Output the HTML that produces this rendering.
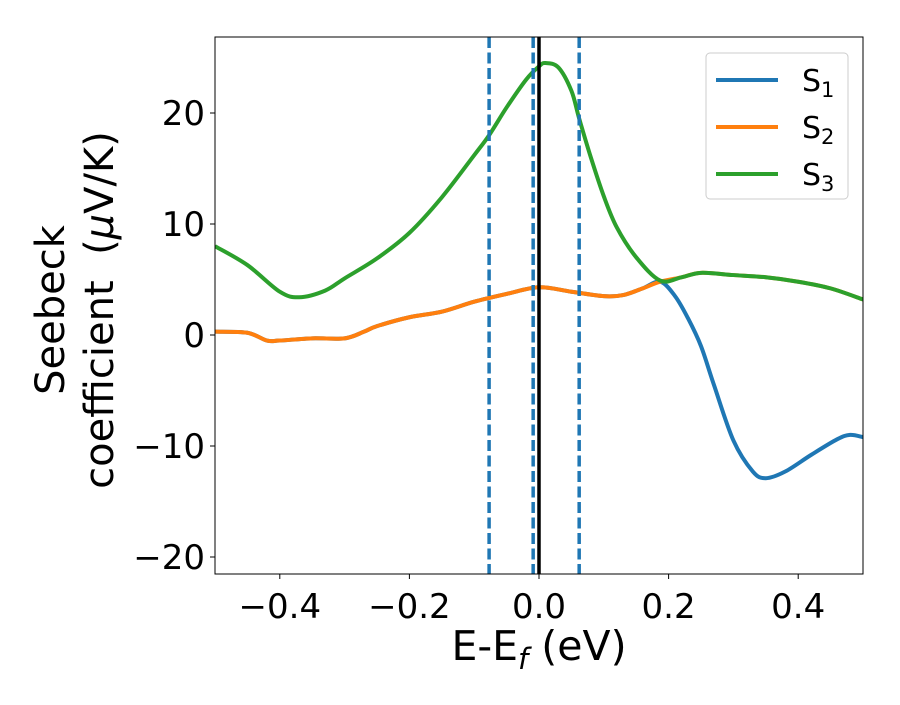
<!DOCTYPE html>
<html><head><meta charset="utf-8"><style>
body{margin:0;background:#fff;}
svg text{font-family:"DejaVu Sans","Liberation Sans",sans-serif;fill:#000;}
</style></head><body>
<svg id="chart" width="900" height="700" xmlns="http://www.w3.org/2000/svg">
<g id="plot"></g>
</svg>
<script>
const xs1=[-0.5,-0.45,-0.42,-0.4,-0.35,-0.3,-0.27,-0.25,-0.2,-0.15,-0.1,-0.05,0,0.05,0.1,0.13,0.16,0.187,0.21,0.23,0.25,0.27,0.3,0.33,0.35,0.38,0.42,0.46,0.48,0.5];
const s1=[0.3,0.2,-0.5,-0.5,-0.3,-0.3,0.3,0.8,1.6,2.1,3.0,3.7,4.3,3.9,3.5,3.6,4.2,4.8,3.5,1.5,-1.0,-4.5,-9.5,-12.3,-12.9,-12.3,-10.8,-9.4,-9.0,-9.2];
const xs2=[-0.5,-0.45,-0.42,-0.4,-0.35,-0.3,-0.27,-0.25,-0.2,-0.15,-0.1,-0.05,0,0.05,0.1,0.13,0.16,0.187,0.22,0.25,0.3,0.35,0.4,0.45,0.5];
const s2=[0.3,0.2,-0.5,-0.5,-0.3,-0.3,0.3,0.8,1.6,2.1,3.0,3.7,4.3,3.9,3.5,3.6,4.2,4.8,5.2,5.6,5.4,5.2,4.8,4.2,3.2];
const xs3=[-0.5,-0.45,-0.4,-0.37,-0.33,-0.3,-0.25,-0.2,-0.15,-0.1,-0.077,-0.05,-0.02,0,0.01,0.03,0.05,0.062,0.08,0.1,0.12,0.15,0.187,0.22,0.25,0.3,0.35,0.4,0.45,0.5];
const s3=[8.0,6.3,3.9,3.4,4.0,5.1,6.9,9.2,12.4,16.2,18.0,20.5,23.0,24.2,24.5,24.1,22.0,19.5,16.0,12.5,9.7,7.0,4.9,5.2,5.6,5.4,5.2,4.8,4.2,3.2];
const vlines=[-0.077,-0.009,0.062];
const xTicks=[-0.4,-0.2,0.0,0.2,0.4];
const xTickLabels=["−0.4","−0.2","0.0","0.2","0.4"];
const yTicks=[-20,-10,0,10,20];
const yTickLabels=["−20","−10","0","10","20"];

const L=215,R=863,T=37,B=574;
const X=v=>539+(v)*648;
const Y=v=>335-v*11.1;
const NS="http://www.w3.org/2000/svg";
const svg=document.getElementById('chart');
function mk(tag,attrs,parent){const e=document.createElementNS(NS,tag);for(const k in attrs)e.setAttribute(k,attrs[k]);(parent||svg).appendChild(e);return e;}
const clip=mk('clipPath',{id:'cp'});mk('rect',{x:L,y:T,width:R-L,height:B-T},clip);
const g=mk('g',{'clip-path':'url(#cp)'});


function smooth(xs,ys){const p=xs.map((x,i)=>[X(x),Y(ys[i])]);let d=`M${p[0][0]},${p[0][1]}`;
for(let i=0;i<p.length-1;i++){const p0=p[i-1]||p[i],p1=p[i],p2=p[i+1],p3=p[i+2]||p2;
d+=` C${p1[0]+(p2[0]-p0[0])/6},${p1[1]+(p2[1]-p0[1])/6} ${p2[0]-(p3[0]-p1[0])/6},${p2[1]-(p3[1]-p1[1])/6} ${p2[0]},${p2[1]}`;}return d;}
const series=[[xs1,s1,'#1f77b4','line-s1'],[xs2,s2,'#ff7f0e','line-s2'],[xs3,s3,'#2ca02c','line-s3']];
series.forEach(s=>{const e=mk('path',{d:smooth(s[0],s[1]),fill:'none',stroke:s[2],'stroke-width':4,'stroke-linejoin':'round'},g);

});
vlines.forEach(v=>{const e=mk('line',{x1:X(v),x2:X(v),y1:T,y2:B,stroke:'#1f77b4','stroke-width':3.5,'stroke-dasharray':'11 4.5'},g);

});
const z=mk('line',{x1:X(0),x2:X(0),y1:T,y2:B,stroke:'#000','stroke-width':3.5},g);


const fr=mk('rect',{x:L,y:T,width:R-L,height:B-T,fill:'none',stroke:'#000','stroke-width':1});


xTicks.forEach((v,i)=>{mk('line',{x1:X(v),x2:X(v),y1:B,y2:B+5,stroke:'#000'});
const t=mk('text',{x:X(v),y:B+44,'text-anchor':'middle','font-size':34});t.textContent=xTickLabels[i];

});
yTicks.forEach((v,i)=>{mk('line',{x1:L-5,x2:L,y1:Y(v),y2:Y(v),stroke:'#000'});
const t=mk('text',{x:L-10,y:Y(v)+12,'text-anchor':'end','font-size':34});t.textContent=yTickLabels[i];

});
</script>
<svg width="900" height="700" style="position:absolute;left:0;top:0" xmlns="http://www.w3.org/2000/svg">
<text x="539" y="660" text-anchor="middle" font-size="41" style="font-family:'DejaVu Sans',sans-serif">E-E<tspan font-style="italic" font-size="29" dy="9">f</tspan><tspan dy="-9"> (eV)</tspan></text>
<g transform="translate(64,310) rotate(-90)" style="font-family:'DejaVu Sans',sans-serif" font-size="40">
<text x="0" y="0" text-anchor="middle">Seebeck</text>
<text x="0" y="49" text-anchor="middle" xml:space="preserve">coefficient  (<tspan font-style="italic">μ</tspan>V/K)</text>
</g>
<g style="font-family:'DejaVu Sans',sans-serif">
<rect x="706" y="53" width="142" height="146" rx="4" fill="#fff" stroke="#ccc" stroke-width="1"/>
<g><line x1="716" x2="778" y1="80" y2="80" stroke="#1f77b4" stroke-width="4"/><text x="802" y="91" font-size="30">S<tspan font-size="21" dy="6">1</tspan></text></g>
<g><line x1="716" x2="778" y1="127" y2="127" stroke="#ff7f0e" stroke-width="4"/><text x="802" y="138" font-size="30">S<tspan font-size="21" dy="6">2</tspan></text></g>
<g><line x1="716" x2="778" y1="174" y2="174" stroke="#2ca02c" stroke-width="4"/><text x="802" y="185" font-size="30">S<tspan font-size="21" dy="6">3</tspan></text></g>
</g>
</svg>
</body></html>
